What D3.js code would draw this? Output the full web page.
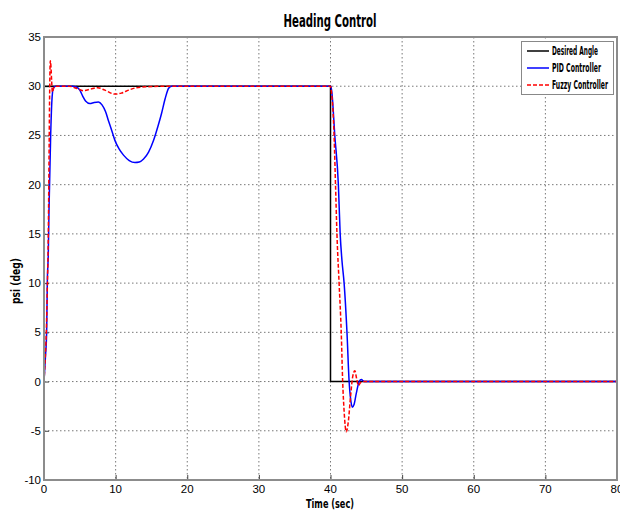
<!DOCTYPE html>
<meta charset="utf-8">
<style>
body { margin: 0; background: #fff; }
.tick-label { font-family: "Liberation Sans", Arial, sans-serif; font-size: 11.5px; fill: #000; }
.cond { font-family: "DejaVu Sans Condensed", "DejaVu Sans", sans-serif; font-stretch: condensed; font-weight: bold; fill: #000; }
.grid line { stroke: #555; stroke-width: 0.8; stroke-dasharray: 1.5,2.5; }
</style>
<svg width="620" height="511"></svg>
<script src="https://d3js.org/d3.v7.min.js"></script>
<script>

// desired heading
var desiredT = [0, 40, 40, 80];
var desiredV = [30, 30, 0, 0];

// PID controller response
var pidT = [0, 0.2, 0.37, 0.46, 0.6, 0.7, 0.93, 1.1, 1.3, 1.6, 4.0, 4.6, 5.0, 5.4, 5.8, 6.4, 7.0, 7.6, 8.1, 8.6, 9.0, 9.5, 9.9, 10.5, 11.1, 11.9, 12.7, 13.3, 13.9, 14.6, 15.3, 15.9, 16.4, 16.9, 17.4, 17.8,
            40.05, 40.2, 40.6, 41.1, 41.35, 41.6, 41.9, 42.3, 42.6, 42.85, 43.05, 43.3, 43.6, 44.0, 44.3, 44.7, 80];
var pidV = [0, 2.5, 5, 10, 13, 17.5, 25, 28.5, 29.8, 30, 30, 29.9, 29.6, 29.0, 28.5, 28.25, 28.35, 28.4, 28.1, 27.4, 26.5, 25.4, 24.5, 23.6, 23.0, 22.45, 22.25, 22.3, 22.6, 23.3, 24.5, 25.9, 27.2, 28.7, 29.8, 30,
            30, 29.3, 25, 20, 15, 12.3, 10, 5, 0, -2, -2.6, -2.3, -1.2, 0, 0.2, 0, 0];

// fuzzy controller response
var fuzzyT = [0, 0.15, 0.32, 0.45, 0.6, 0.72, 0.8, 0.88, 0.97, 1.07, 1.17, 1.3, 1.5, 3.5, 4.5, 5.5, 6.5, 7.5, 8.5, 9.9, 10.8, 11.8, 12.9, 14.5, 16.5,
              40.0, 40.15, 40.5, 40.7, 40.9, 41.2, 41.5, 41.7, 41.9, 42.2, 42.5, 42.8, 43.1, 43.4, 43.65, 43.9, 44.2, 44.6, 80];
var fuzzyV = [0, 2, 5, 9, 15, 24, 30, 32.6, 32, 30.5, 29.4, 29.7, 30, 30, 29.8, 29.55, 29.7, 29.85, 29.6, 29.2, 29.3, 29.6, 29.85, 29.95, 30,
              30, 29.3, 25, 20, 15, 10, 5, 0, -3, -5.1, -4, -1.5, 0.5, 1.1, 0.3, -0.4, -0.1, 0, 0];

var xTicks = [0, 10, 20, 30, 40, 50, 60, 70, 80];
var yTicks = [-10, -5, 0, 5, 10, 15, 20, 25, 30, 35];

var legendNames = ["Desired Angle", "PID Controller", "Fuzzy Controller"];

var svg = d3.select("svg");
var pLeft = 44, pRight = 617, pTop = 37, pBottom = 480;

var x = d3.scaleLinear().domain([0, 80]).range([pLeft, pRight]);
var y = d3.scaleLinear().domain([-10, 35]).range([pBottom, pTop]);

// grid
var grid = svg.append("g").attr("class", "grid");
grid.selectAll(".gx").data(xTicks.slice(1, -1)).enter().append("line")
    .attr("x1", d => x(d)).attr("x2", d => x(d)).attr("y1", pTop).attr("y2", pBottom);
grid.selectAll(".gy").data(yTicks.slice(1, -1)).enter().append("line")
    .attr("x1", pLeft).attr("x2", pRight).attr("y1", d => y(d)).attr("y2", d => y(d));

// inward ticks
svg.append("g").attr("transform", "translate(0," + pBottom + ")")
    .call(d3.axisTop(x).tickValues(xTicks).tickSize(5).tickFormat(""))
    .call(g => g.select(".domain").remove())
    .selectAll("line").attr("stroke", "#444");
svg.append("g").attr("transform", "translate(" + pLeft + ",0)")
    .call(d3.axisRight(y).tickValues(yTicks).tickSize(5).tickFormat(""))
    .call(g => g.select(".domain").remove())
    .selectAll("line").attr("stroke", "#444");

// tick labels
svg.selectAll(".xl").data(xTicks).enter().append("text")
    .attr("class", "tick-label")
    .attr("x", d => x(d)).attr("y", 493)
    .attr("text-anchor", "middle").text(d => d);
svg.selectAll(".yl").data(yTicks).enter().append("text")
    .attr("class", "tick-label")
    .attr("x", 41).attr("y", d => y(d) + 4)
    .attr("text-anchor", "end").text(d => d);

// lines
var line = d3.line().x(d => x(d[0])).y(d => y(d[1])).curve(d3.curveMonotoneX);
var lineSharp = d3.line().x(d => x(d[0])).y(d => y(d[1]));

svg.append("path").datum(d3.zip(desiredT, desiredV))
    .attr("d", lineSharp).attr("fill", "none").attr("stroke", "#000").attr("stroke-width", 1.5);
svg.append("path").datum(d3.zip(pidT, pidV))
    .attr("d", line).attr("fill", "none").attr("stroke", "#0000ff").attr("stroke-width", 1.5);
svg.append("path").datum(d3.zip(fuzzyT, fuzzyV))
    .attr("d", line).attr("fill", "none").attr("stroke", "#ff0000").attr("stroke-width", 1.5)
    .attr("stroke-dasharray", "4,2");

// frame
svg.append("rect").attr("x", pLeft).attr("y", pTop)
    .attr("width", pRight - pLeft).attr("height", pBottom - pTop)
    .attr("fill", "none").attr("stroke", "#8c8c8c").attr("stroke-width", 2);

// title and axis labels
svg.append("text").attr("class", "cond").attr("x", 330).attr("y", 27)
    .attr("text-anchor", "middle").attr("font-size", 18)
    .attr("textLength", 93).attr("lengthAdjust", "spacingAndGlyphs").text("Heading Control");
svg.append("text").attr("class", "cond").attr("x", 330).attr("y", 508)
    .attr("text-anchor", "middle").attr("font-size", 13)
    .attr("textLength", 48).attr("lengthAdjust", "spacingAndGlyphs").text("Time (sec)");
svg.append("text").attr("class", "cond")
    .attr("transform", "translate(20,281) rotate(-90)")
    .attr("text-anchor", "middle").attr("font-size", 13)
    .attr("textLength", 46).attr("lengthAdjust", "spacingAndGlyphs").text("psi (deg)");

// legend
var lg = svg.append("g");
lg.append("rect").attr("x", 521.5).attr("y", 41.5).attr("width", 92).attr("height", 53)
    .attr("fill", "#fff").attr("stroke", "#888").attr("stroke-width", 1);
var legendColors = ["#000", "#0000ff", "#ff0000"];
var legendDash = [null, null, "4,2"];
var legendW = [46, 49, 56];
legendNames.forEach(function(n, i) {
  var ly = 51 + i * 17;
  lg.append("line").attr("x1", 527).attr("x2", 549).attr("y1", ly).attr("y2", ly)
      .attr("stroke", legendColors[i]).attr("stroke-width", 1.5)
      .attr("stroke-dasharray", legendDash[i]);
  lg.append("text").attr("class", "cond").attr("x", 552).attr("y", ly + 4)
      .attr("font-size", 12).attr("font-weight", "normal").attr("textLength", legendW[i]).attr("lengthAdjust", "spacingAndGlyphs")
      .text(n);
});

</script>
